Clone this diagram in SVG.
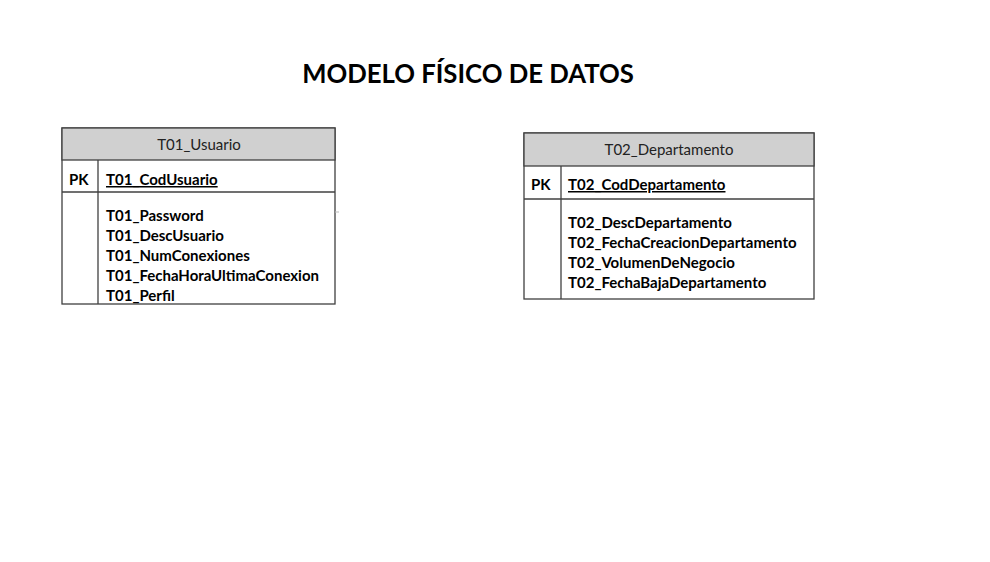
<svg xmlns="http://www.w3.org/2000/svg" width="990" height="562" viewBox="0 0 990 562">
<style>
.box{fill:#fff;stroke:#404040;stroke-width:1.3}
.hdr{fill:#d0d0d0;stroke:#404040;stroke-width:1.3}
.ln{stroke:#404040;stroke-width:1.3}
.t{font-family:Lato,"Open Sans",sans-serif;font-size:15px;fill:#000}
.b{font-weight:bold}
.h{text-anchor:middle;fill:#222}
</style>
<rect width="990" height="562" fill="#fff"/>
<text x="468" y="83" text-anchor="middle" font-family="Lato,'Open Sans',sans-serif" font-weight="bold" font-size="25.7">MODELO FÍSICO DE DATOS</text>
<g id="T01_Usuario">
<rect class="box" x="62" y="128" width="273" height="176"/>
<rect class="hdr" x="62" y="128" width="273" height="32"/>
<line class="ln" x1="62" y1="192" x2="335" y2="192"/>
<line class="ln" x1="98" y1="160" x2="98" y2="304"/>
<line x1="335" y1="212" x2="339" y2="212" stroke="#bbb" stroke-width="1"/>
<text class="t h" x="199" y="150">T01_Usuario</text>
<text class="t b" x="69" y="185">PK</text>
<text class="t b" x="106" y="185" text-decoration="underline">T01_CodUsuario</text>
<text class="t b" x="106" y="221">T01_Password</text>
<text class="t b" x="106" y="241">T01_DescUsuario</text>
<text class="t b" x="106" y="261">T01_NumConexiones</text>
<text class="t b" x="106" y="281">T01_FechaHoraUltimaConexion</text>
<text class="t b" x="106" y="301">T01_Perfil</text>
</g>
<g id="T02_Departamento">
<rect class="box" x="524" y="133" width="290" height="166"/>
<rect class="hdr" x="524" y="133" width="290" height="33"/>
<line class="ln" x1="524" y1="199" x2="814" y2="199"/>
<line class="ln" x1="561" y1="166" x2="561" y2="299"/>
<text class="t h" x="669" y="155">T02_Departamento</text>
<text class="t b" x="531" y="190">PK</text>
<text class="t b" x="568" y="190" text-decoration="underline">T02_CodDepartamento</text>
<text class="t b" x="568" y="228">T02_DescDepartamento</text>
<text class="t b" x="568" y="248">T02_FechaCreacionDepartamento</text>
<text class="t b" x="568" y="268">T02_VolumenDeNegocio</text>
<text class="t b" x="568" y="288">T02_FechaBajaDepartamento</text>
</g>
<g id="connectors"/>
</svg>
